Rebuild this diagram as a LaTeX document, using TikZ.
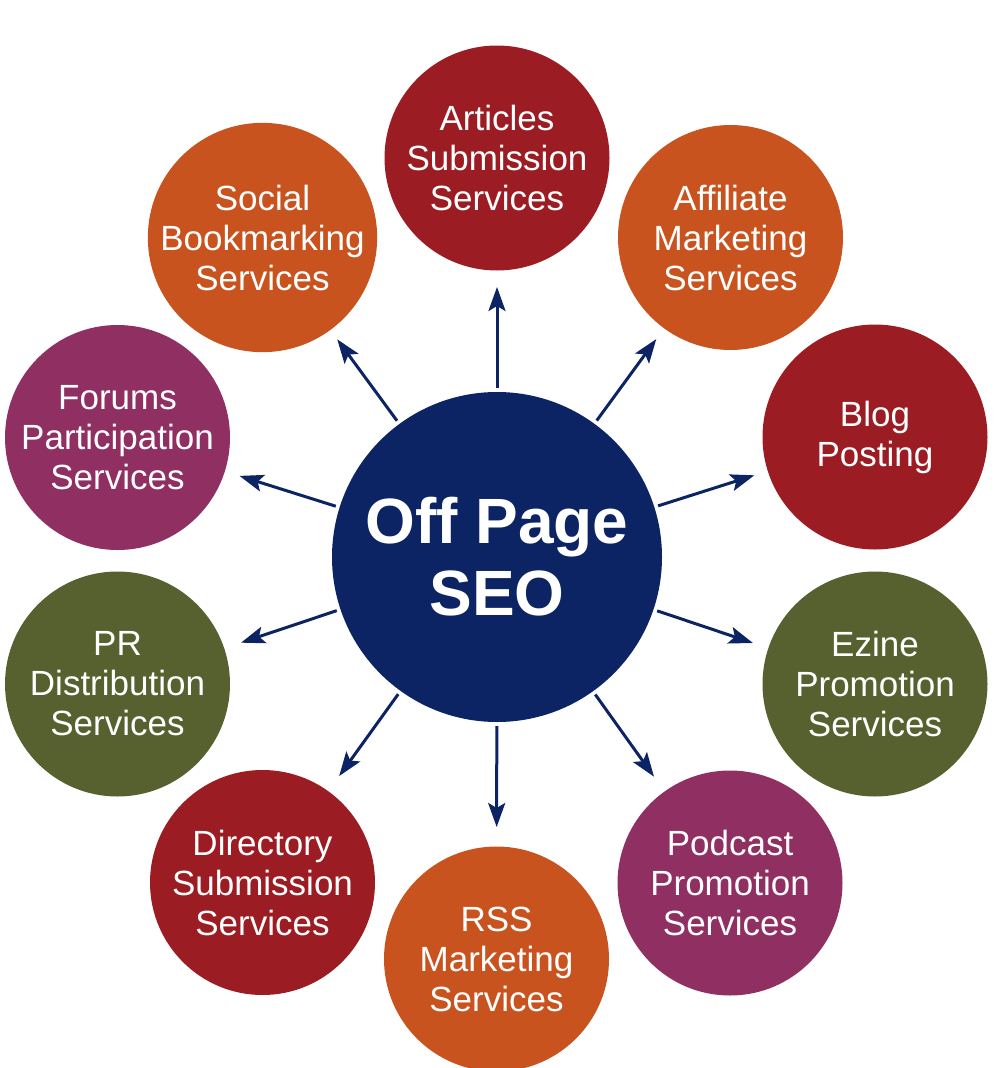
\documentclass[tikz,border=0pt]{standalone}
\usepackage{fontspec}
\setmainfont{Liberation Sans}
\usetikzlibrary{calc,arrows.meta}
\definecolor{cred}{HTML}{9B1D23}
\definecolor{corange}{HTML}{C9531F}
\definecolor{cpurple}{HTML}{8F2F62}
\definecolor{colive}{HTML}{57612F}
\definecolor{cnavy}{HTML}{0C2463}
\tikzset{
  outer/.style={circle, fill=#1, minimum size=225pt, inner sep=0pt, text=white, align=center,
    font=\fontsize{35}{40}\selectfont},
  hub/.style={circle, fill=cnavy, minimum size=330pt, inner sep=0pt, text=white, align=center,
    font=\fontsize{64}{72}\selectfont\bfseries},
  link/.style={draw=cnavy, line width=3pt, -{Stealth[length=24pt,width=17pt,inset=5pt]}}
}
\begin{document}
\begin{tikzpicture}[x=1pt,y=-1pt]
\useasboundingbox (0,0) rectangle (1000,1068);
\node[hub] (c) at (497,557) {Off Page\\SEO};
\node[outer=cred] (art) at (497,158) {Articles\\Submission\\Services};
\node[outer=corange] (aff) at (730.5,237.5) {Affiliate\\Marketing\\Services};
\node[outer=cred] (blog) at (875,437) {Blog\\Posting};
\node[outer=colive] (ezine) at (875,684) {Ezine\\Promotion\\Services};
\node[outer=cpurple] (pod) at (730,883) {Podcast\\Promotion\\Services};
\node[outer=corange] (rss) at (496.5,959) {RSS\\Marketing\\Services};
\node[outer=cred] (dir) at (262.5,882.5) {Directory\\Submission\\Services};
\node[outer=colive] (pr) at (117.5,684) {PR\\Distribution\\Services};
\node[outer=cpurple] (for) at (117.5,437.5) {Forums\\Participation\\Services};
\node[outer=corange] (soc) at (262.5,237.5) {Social\\Bookmarking\\Services};
\foreach \n in {art,aff,blog,ezine,pod,rss,dir,pr,for,soc}{
  \coordinate (s-\n) at ($(c.center)!169pt!(\n.center)$);
  \coordinate (e-\n) at ($(c.center)!270pt!(\n.center)$);
  \draw[link] (s-\n) -- (e-\n);
}
\end{tikzpicture}
\end{document}
